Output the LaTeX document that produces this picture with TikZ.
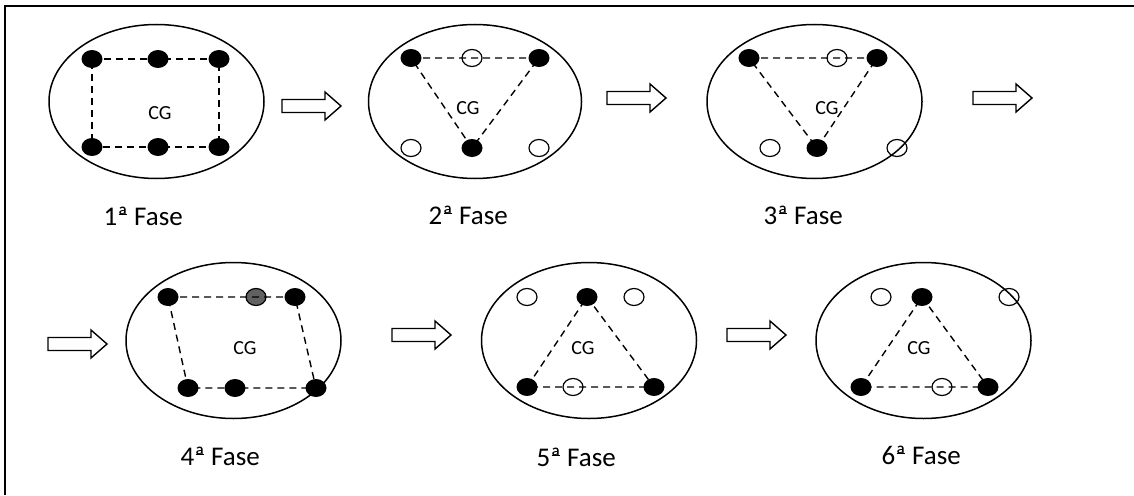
\documentclass[tikz,border=0pt]{standalone}
\usepackage{fontspec}
\setmainfont{Carlito}
\usetikzlibrary{shapes.geometric}
% ordinal indicator, underlined in the Calibri manner
\newcommand{\ordA}{\leavevmode\setbox0\hbox{ª}\rlap{\hspace{0.05em}\rule[0.36em]{\dimexpr\wd0-0.1em\relax}{0.055em}}\box0}

\begin{document}
\begin{tikzpicture}[x=1pt,y=-1pt,
  body/.style={ellipse, draw, line width=1.5pt, minimum width=215pt, minimum height=154pt, inner sep=0pt},
  fulldot/.style={ellipse, fill=black, minimum width=21pt, minimum height=18pt, inner sep=0pt},
  opendot/.style={ellipse, draw, line width=1.2pt, minimum width=20pt, minimum height=17pt, inner sep=0pt},
  greydot/.style={ellipse, draw, line width=1.2pt, fill=black!62, minimum width=20pt, minimum height=17pt, inner sep=0pt},
  link/.style={line width=1.4pt, dash pattern=on 7pt off 5pt},
  cg/.style={font=\fontsize{20}{24}\selectfont},
  phase/.style={anchor=base west, font=\fontsize{27}{32}\selectfont},
  blockarrow/.pic={\draw[line width=1.4pt, fill=white] (0,-6.5) -- (43,-6.5) -- (43,-14) -- (59,0) -- (43,14) -- (43,6.5) -- (0,6.5) -- cycle;}
]
% page and frame
\fill[white] (0,0) rectangle (1134,495);
\useasboundingbox (0,0) rectangle (1134,495);
\draw[line width=2pt] (4.5,495) -- (4.5,6.5) -- (1134,6.5);

% ---------- 1st phase ----------
\node[body] (e1) at (156.5,101.5) {};
\node[fulldot] (a1) at (92,59) {};
\node[fulldot] (a2) at (158,59) {};
\node[fulldot] (a3) at (219,59) {};
\node[fulldot] (a4) at (92,147) {};
\node[fulldot] (a5) at (158,147) {};
\node[fulldot] (a6) at (219,147) {};
\draw[link] (a1.center) -- (a3.center) -- (a6.center) -- (a4.center) -- cycle;
\node[cg] (cg1) at (160,113) {CG};
\node[phase] (f1) at (100,225) {1\ordA{} Fase};
\pic at (282,106) {blockarrow};

% ---------- 2nd phase ----------
\node[body, minimum width=213pt] (e2) at (475,101.5) {};
\node[fulldot] (b1) at (411,58) {};
\node[opendot] (b2) at (472,58) {};
\node[fulldot] (b3) at (539,58) {};
\node[opendot] (b4) at (411,148) {};
\node[fulldot] (b5) at (472,148) {};
\node[opendot] (b6) at (539,148) {};
\draw[link] (b1.center) -- (b3.center) -- (b5.center) -- cycle;
\node[cg] (cg2) at (468,108) {CG};
\node[phase] (f2) at (425,224) {2\ordA{} Fase};
\pic at (607,98) {blockarrow};

% ---------- 3rd phase ----------
\node[body] (e3) at (814.5,101.5) {};
\node[fulldot] (c1) at (749,58) {};
\node[opendot] (c2) at (837,58) {};
\node[fulldot] (c3) at (877,58) {};
\node[opendot] (c4) at (770,148) {};
\node[fulldot] (c5) at (817,148) {};
\node[opendot] (c6) at (897,148) {};
\draw[link] (c1.center) -- (c3.center) -- (c5.center) -- cycle;
\node[cg] (cg3) at (827,108) {CG};
\node[phase] (f3) at (760,224) {3\ordA{} Fase};
\pic at (973,98) {blockarrow};

% ---------- 4th phase ----------
\pic at (48,344) {blockarrow};
\node[body, minimum height=156pt] (e4) at (233.5,340.5) {};
\node[fulldot] (d1) at (168,297) {};
\node[greydot] (d2) at (256,297) {};
\node[fulldot] (d3) at (295,297) {};
\node[fulldot] (d4) at (188,388) {};
\node[fulldot] (d5) at (235,388) {};
\node[fulldot] (d6) at (316,388) {};
\draw[link] (d1.center) -- (d3.center) -- (d6.center) -- (d4.center) -- cycle;
\node[cg] (cg4) at (245,348) {CG};
\node[phase] (f4) at (177,465) {4\ordA{} Fase};

% ---------- 5th phase ----------
\pic at (392,335) {blockarrow};
\node[body, minimum height=156pt] (e5) at (589,340.5) {};
\node[opendot] (g1) at (527,297) {};
\node[fulldot] (g2) at (587,297) {};
\node[opendot] (g3) at (634,297) {};
\node[fulldot] (g4) at (527,387) {};
\node[opendot] (g5) at (573,387) {};
\node[fulldot] (g6) at (654,387) {};
\draw[link] (g2.center) -- (g6.center) -- (g4.center) -- cycle;
\node[cg] (cg5) at (583,348) {CG};
\node[phase] (f5) at (533,466) {5\ordA{} Fase};

% ---------- 6th phase ----------
\pic at (727,335) {blockarrow};
\node[body, minimum height=156pt] (e6) at (923.5,340.5) {};
\node[opendot] (h1) at (881,297) {};
\node[fulldot] (h2) at (922,297) {};
\node[opendot] (h3) at (1009,297) {};
\node[fulldot] (h4) at (861,387) {};
\node[opendot] (h5) at (942,387) {};
\node[fulldot] (h6) at (988,387) {};
\draw[link] (h2.center) -- (h6.center) -- (h4.center) -- cycle;
\node[cg] (cg6) at (919,348) {CG};
\node[phase] (f6) at (878,464) {6\ordA{} Fase};
\end{tikzpicture}
\end{document}
